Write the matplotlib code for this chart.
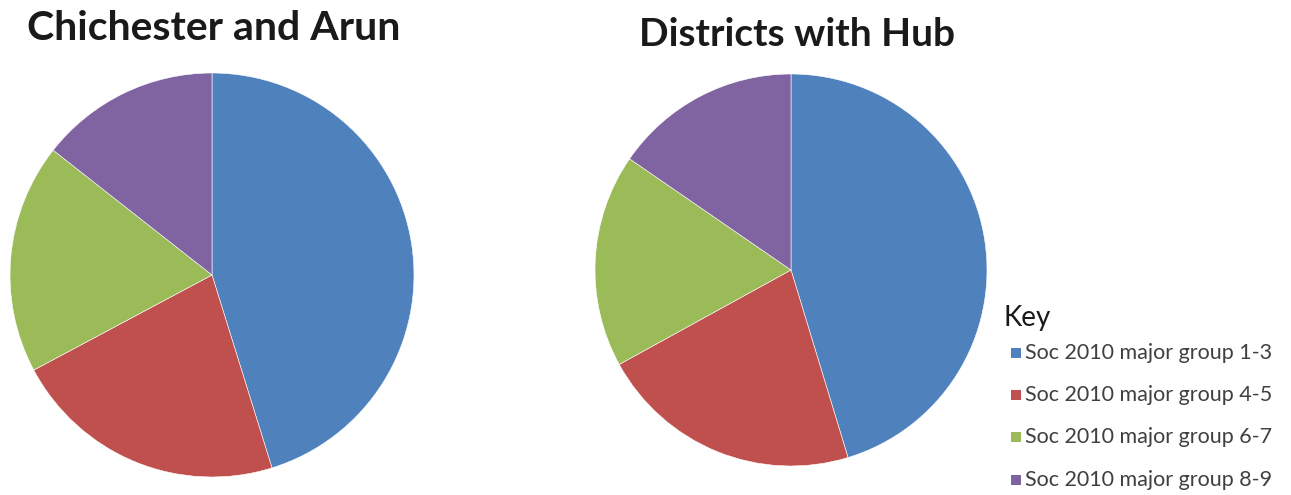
import matplotlib
matplotlib.use("Agg")
import matplotlib.pyplot as plt
from matplotlib.patches import Rectangle

categories = ["Soc 2010 major group 1-3", "Soc 2010 major group 4-5",
              "Soc 2010 major group 6-7", "Soc 2010 major group 8-9"]
chichester_arun = [45.2, 22.0, 18.4, 14.4]
districts_hub = [45.3, 21.7, 17.6, 15.4]
titles = ["Chichester and Arun", "Districts with Hub"]
colors = ["#4F81BD", "#C0504D", "#9BBB59", "#8064A2"]

W, H = 1291, 495
fig = plt.figure(figsize=(W / 100, H / 100), dpi=100)
fig.patch.set_facecolor("white")

def pie_axes(cx, cy, r):
    return fig.add_axes([(cx - r) / W, (H - cy - r) / H, 2 * r / W, 2 * r / H])

layouts = [((212, 275, 202), (214, 29, 29.5)),
           ((791, 270, 196), (797, 35, 28))]

for ((cx, cy, r), (tx, ty, fs)), vals, title in zip(
        layouts, [chichester_arun, districts_hub], titles):
    ax = pie_axes(cx, cy, r)
    ax.pie(vals, colors=colors, startangle=90, counterclock=False, radius=1,
           wedgeprops=dict(edgecolor="white", linewidth=0.4))
    ax.set_xlim(-1, 1)
    ax.set_ylim(-1, 1)
    ax.set_aspect("equal")
    ax.axis("off")
    fig.text(tx / W, 1 - ty / H, title, ha="center", va="center",
             fontsize=fs, fontweight="bold", family="Lato", color="#1a1a1a")

# Key
fig.text(1003 / W, 1 - 318 / H, "Key", ha="left", va="center",
         fontsize=20, family="Lato", color="#1a1a1a")
ys = [353, 395, 437, 480]
for lab, col, y in zip(categories, colors, ys):
    fig.patches.append(Rectangle((1011 / W, 1 - (y + 5) / H), 10 / W, 10 / H,
                                 transform=fig.transFigure, facecolor=col,
                                 edgecolor="none"))
    fig.text(1025 / W, 1 - y / H, lab, ha="left", va="center",
             fontsize=15.5, family="Lato", color="#404040")

fig.savefig("out.png", dpi=100)
